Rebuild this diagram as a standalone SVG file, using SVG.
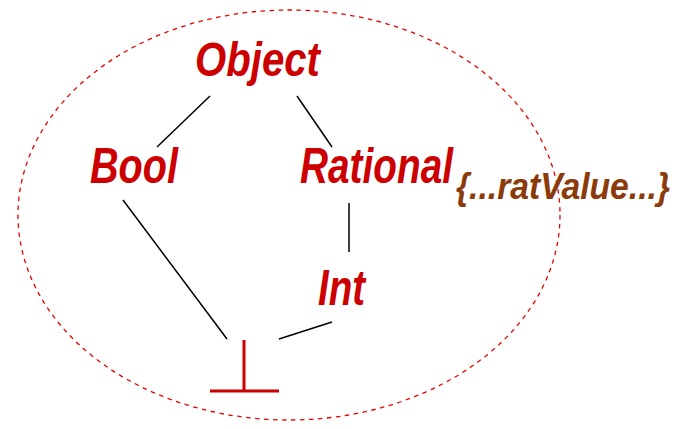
<svg xmlns="http://www.w3.org/2000/svg" width="678" height="429" viewBox="0 0 678 429">
<style>
.lbl{font-family:"Liberation Sans",Arial,sans-serif;font-weight:bold;font-style:italic;fill:#cc0000;}
.ann{font-family:"Liberation Sans",Arial,sans-serif;font-weight:bold;font-style:italic;fill:#8b3a0a;}
.edge{stroke:#000;stroke-width:1.5;fill:none;}
</style>
<rect width="678" height="429" fill="#fff"/>
<ellipse cx="289" cy="215" rx="271" ry="205" fill="none" stroke="#e60000" stroke-width="1.3" stroke-dasharray="4.5 4.5"/>
<g id="connectors">
<line class="edge" x1="210" y1="96" x2="157" y2="147"/>
<line class="edge" x1="297" y1="96" x2="332" y2="147"/>
<line class="edge" x1="123" y1="200" x2="227" y2="339"/>
<line class="edge" x1="349" y1="203" x2="349" y2="252"/>
<line class="edge" x1="332" y1="322" x2="279" y2="339"/>
</g>
<g id="object"><text class="lbl" x="195" y="76" font-size="49" textLength="125" lengthAdjust="spacingAndGlyphs">Object</text></g>
<g id="bool"><text class="lbl" x="90" y="183" font-size="50" textLength="88" lengthAdjust="spacingAndGlyphs">Bool</text></g>
<g id="rational"><text class="lbl" x="300" y="183" font-size="50" textLength="153" lengthAdjust="spacingAndGlyphs">Rational</text>
<text class="ann" x="456" y="199" font-size="36" textLength="214" lengthAdjust="spacingAndGlyphs">{...ratValue...}</text></g>
<g id="int"><text class="lbl" x="318" y="305" font-size="50" textLength="47" lengthAdjust="spacingAndGlyphs">Int</text></g>
<g id="bottom">
<line x1="244" y1="340" x2="244" y2="391" stroke="#cc0000" stroke-width="3"/>
<line x1="210" y1="391" x2="279" y2="391" stroke="#cc0000" stroke-width="3"/>
</g>
</svg>
